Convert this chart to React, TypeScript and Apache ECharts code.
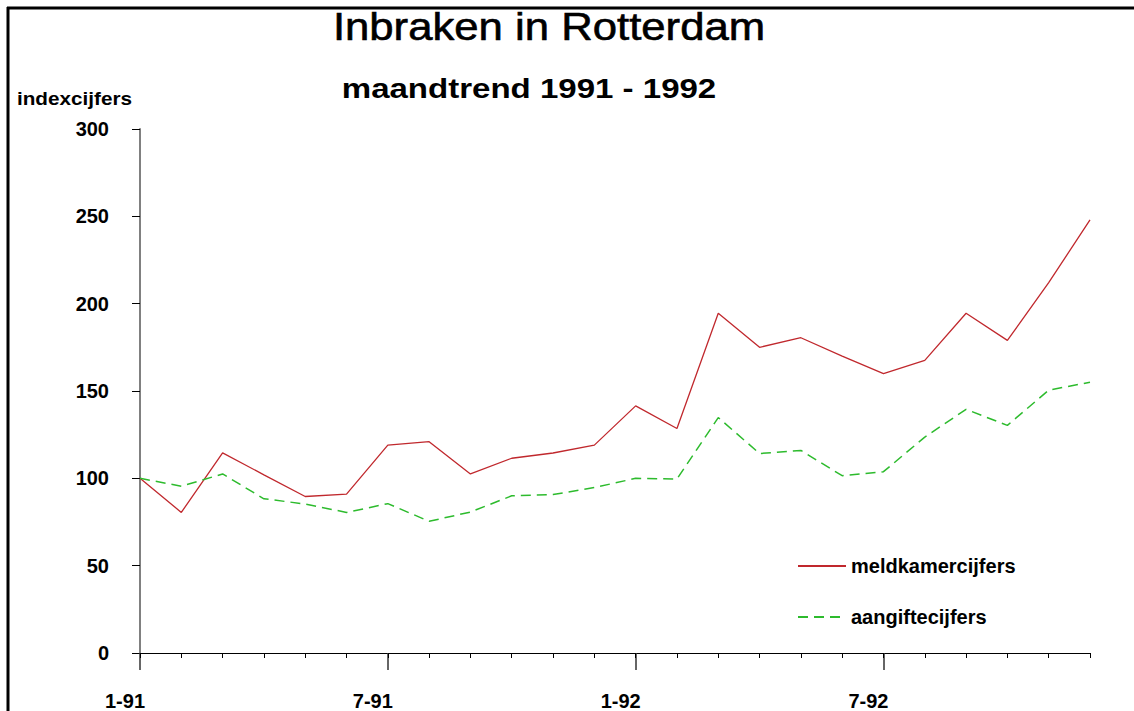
import React, { useEffect, useRef } from "react";
import * as echarts from "echarts";

const months: string[] = [
  "1-91", "2-91", "3-91", "4-91", "5-91", "6-91", "7-91", "8-91", "9-91", "10-91", "11-91", "12-91",
  "1-92", "2-92", "3-92", "4-92", "5-92", "6-92", "7-92", "8-92", "9-92", "10-92", "11-92", "12-92",
];

const meldkamercijfers: number[] = [
  100, 80.5, 114.6, 102, 89.6, 91, 119, 121, 102.5, 111.5, 114.5, 119,
  141.5, 128.5, 194.5, 175, 180.5, 170, 160, 167.5, 194.5, 179, 212, 248,
];

const aangiftecijfers: number[] = [
  100, 95.5, 102.5, 88.3, 85.3, 80.5, 85.5, 75.4, 80.7, 90, 90.7, 94.7,
  100, 99.6, 134.8, 114.2, 116, 101.5, 103.8, 123.6, 139.5, 130.3, 150.5, 155,
];

const yTicks = { min: 0, max: 300, interval: 50 };

const FONT = "'Liberation Sans', Arial, Helvetica, sans-serif";

export default function App() {
  const ref = useRef<HTMLDivElement>(null);

  useEffect(() => {
    if (!ref.current) return;
    const chart = echarts.init(ref.current, null, { renderer: "svg" });
    const option: any = {
      animation: false,
      backgroundColor: "#ffffff",
      textStyle: { fontFamily: FONT },
      grid: { left: 140, right: 44, top: 129, bottom: 53, containLabel: false },
      legend: {
        orient: "vertical",
        left: 797,
        top: 556,
        padding: 0,
        itemWidth: 48,
        itemHeight: 14,
        itemGap: 31,
        itemStyle: { opacity: 0 },
        textStyle: {
          fontFamily: FONT,
          fontSize: 20,
          fontWeight: "bold",
          color: "#000",
          padding: [0, 0, 8, 0],
        },
        data: ["meldkamercijfers", "aangiftecijfers"],
      },
      xAxis: [
        {
          type: "category",
          data: months,
          boundaryGap: false,
          position: "bottom",
          axisLine: { show: true, lineStyle: { color: "#000", width: 1 } },
          axisTick: {
            show: true,
            length: 17,
            interval: (i: number) => i % 6 === 0,
            lineStyle: { color: "#333", width: 1.5 },
          },
          axisLabel: {
            interval: (i: number) => i % 6 === 0,
            margin: 38,
            color: "#000",
            fontFamily: FONT,
            fontSize: 20,
            fontWeight: "bold",
            padding: [0, 30, 0, 0],
          },
          splitLine: { show: false },
        },
        {
          type: "category",
          data: months,
          boundaryGap: false,
          position: "bottom",
          offset: 0,
          axisLine: { show: false },
          axisTick: { show: true, length: 5, interval: 0, lineStyle: { color: "#000", width: 1 } },
          axisLabel: { show: false },
          splitLine: { show: false },
        },
      ],
      yAxis: {
        type: "value",
        min: yTicks.min,
        max: yTicks.max,
        interval: yTicks.interval,
        axisLine: { show: true, lineStyle: { color: "#808080", width: 2 } },
        axisTick: { show: true, length: 8, lineStyle: { color: "#000", width: 1 } },
        axisLabel: {
          margin: 31,
          color: "#000",
          fontFamily: FONT,
          fontSize: 20,
          fontWeight: "bold",
          padding: [0, 0, 10, 0],
        },
        splitLine: { show: false },
      },
      series: [
        {
          name: "meldkamercijfers",
          type: "line",
          data: meldkamercijfers,
          symbol: "none",
          itemStyle: { color: "#c0282d" },
          lineStyle: { color: "#c0282d", width: 1.3, type: "solid" },
        },
        {
          name: "aangiftecijfers",
          type: "line",
          data: aangiftecijfers,
          symbol: "none",
          itemStyle: { color: "#2dbb2d" },
          lineStyle: { color: "#2dbb2d", width: 1.5, type: [10, 6] },
        },
      ],
      graphic: [
        { type: "line", shape: { x1: 7, y1: 8, x2: 1134, y2: 8 }, style: { stroke: "#000", lineWidth: 3 } },
        { type: "line", shape: { x1: 8, y1: 7, x2: 8, y2: 711 }, style: { stroke: "#000", lineWidth: 3 } },
        {
          type: "text",
          x: 549,
          y: 27,
          scaleX: 1.15,
          style: {
            text: "Inbraken in Rotterdam",
            fill: "#000",
            stroke: "#000",
            lineWidth: 0.6,
            font: `normal 38px ${FONT}`,
            textAlign: "center",
            textVerticalAlign: "middle",
          },
        },
        {
          type: "text",
          x: 529,
          y: 88,
          scaleX: 1.18,
          style: {
            text: "maandtrend 1991 - 1992",
            fill: "#000",
            font: `bold 28px ${FONT}`,
            textAlign: "center",
            textVerticalAlign: "middle",
          },
        },
        {
          type: "text",
          x: 17,
          y: 99,
          scaleX: 1.15,
          style: {
            text: "indexcijfers",
            fill: "#000",
            font: `bold 18px ${FONT}`,
            textAlign: "left",
            textVerticalAlign: "middle",
          },
        },
      ],
    };
    chart.setOption(option);
    return () => chart.dispose();
  }, []);

  return (
    <div
      ref={ref}
      style={{ position: "fixed", left: 0, top: 0, width: 1134, height: 711, background: "#fff" }}
    />
  );
}
